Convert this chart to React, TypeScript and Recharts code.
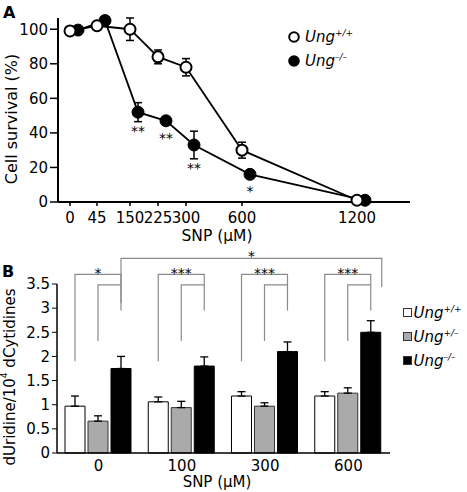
import React from 'react';
import { Bar, BarChart, ErrorBar, LabelList, Legend, Line, LineChart, XAxis, YAxis } from 'recharts';

const FONT = '"DejaVu Sans", sans-serif';

// panel A: cell survival vs SNP dose
const doses = [0, 45, 150, 225, 300, 600, 1200];
// the dose axis in the original is not to scale, this is where each dose sits on it
const dosePos = [12, 39, 72, 100, 128, 184, 299];
const survivalWT = [99, 102, 100, 84, 78, 30, 1];
const survivalWTErr = [0, 0, 6.5, 4, 5, 4.6, 0];
const survivalKO = [99.5, 105, 52, 47, 33, 16, 1];
const survivalKOErr = [0, 0, 5.5, 1.5, 8, 2, 0];
const survivalKOSig = ['', '', '**', '**', '**', '*', ''];

// panel B: dUridine per 10^4 dCytidines
const snpDoses = ['0', '100', '300', '600'];
const uridineWT = [0.97, 1.06, 1.18, 1.18];
const uridineWTErr = [0.21, 0.1, 0.09, 0.09];
const uridineHet = [0.66, 0.94, 0.97, 1.24];
const uridineHetErr = [0.11, 0.13, 0.07, 0.11];
const uridineKO = [1.75, 1.8, 2.1, 2.5];
const uridineKOErr = [0.25, 0.19, 0.2, 0.24];
const groupSig = ['*', '***', '***', '***'];
const overallSig = '*';

const KO_SHIFT = 8; // filled points are dodged right a bit

const lineWT = doses.map((d, i) => ({ dose: d, pos: dosePos[i], value: survivalWT[i], err: survivalWTErr[i] }));
const lineKO = doses.map((d, i) => ({
  dose: d,
  pos: dosePos[i] + KO_SHIFT,
  value: survivalKO[i],
  err: survivalKOErr[i],
  sig: survivalKOSig[i],
}));

const barData = snpDoses.map((d, i) => ({
  dose: d,
  wt: uridineWT[i],
  wtErr: [0, uridineWTErr[i]],
  het: uridineHet[i],
  hetErr: [0, uridineHetErr[i]],
  ko: uridineKO[i],
  koErr: [0, uridineKOErr[i]],
}));

// layout
const A_W = 467, A_H = 250;
const A_MARGIN = { top: 18, right: 57, bottom: 18, left: 8 };
const A_XAXIS_H = 30;
const A_YMAX = 106.5;
const A_PLOT_H = A_H - A_MARGIN.top - A_MARGIN.bottom - A_XAXIS_H;

const B_TOP = 240;
const B_W = 467, B_H = 252;
const B_MARGIN = { top: 44, right: 77, bottom: 14, left: 7 };
const B_YAXIS_W = 50;
const B_PLOT_W = B_W - B_MARGIN.left - B_MARGIN.right - B_YAXIS_W;
const B_BAR_GAP = 3;

const GRAY = '#aaaaaa';
const BRACKET = '#8a8a8a';

function AxisTitle(props: any) {
  const { tx, ty, rot, size, main, sup, rest } = props;
  return (
    <text
      x={tx}
      y={ty}
      transform={rot ? `rotate(${rot} ${tx} ${ty})` : undefined}
      textAnchor="middle"
      dominantBaseline="central"
      fontSize={size}
      fontFamily={FONT}
      fill="#000"
    >
      {main}
      {sup ? <tspan fontSize={size * 0.6} dy={-size * 0.4}>{sup}</tspan> : null}
      {rest ? <tspan dy={size * 0.4}>{rest}</tspan> : null}
    </text>
  );
}

const renderSurvivalStar = (props: any) => {
  const vb = props.viewBox || {};
  const x = vb.x ?? props.x;
  const y = vb.y ?? props.y;
  const { value, index } = props;
  if (!value) return null;
  const k = A_PLOT_H / A_YMAX;
  const errBottom = y + survivalKOErr[index] * k;
  const cy = Math.max(y + 14, errBottom + 6);
  return (
    <text x={x} y={cy + 8} textAnchor="middle" fontSize={14} fontFamily={FONT} fill="#000">
      {value}
    </text>
  );
};

const renderBrackets = (props: any) => {
  const vb = props.viewBox || props;
  const { x, y, width, height } = vb;
  const index = props.index;
  const value = uridineKO[index];
  const k = height / value;
  const base = y + height;
  const Y = (v: number) => base - v * k;
  const step = width + B_BAR_GAP;
  const cb = x + width / 2;
  const cg = cb - step;
  const cw = cb - 2 * step;
  const band = B_PLOT_W / snpDoses.length;
  const last = index === snpDoses.length - 1;
  const left = cb - (snpDoses.length - 1) * band;
  const right = x + width + 1;
  return (
    <g fill="none" strokeWidth={1.2}>
      <path d={`M${cw},${Y(1.9)}V${Y(3.7)}H${cb}V${Y(2.95)}`} stroke={BRACKET} />
      <path d={`M${cg},${Y(2.32)}V${Y(3.48)}H${cb}`} stroke={BRACKET} />
      <text x={(cw + cb) / 2} y={Y(3.7) + 3.5} textAnchor="middle" fontSize={14} fontFamily={FONT} fill="#000">
        {groupSig[index]}
      </text>
      {last ? (
        <>
          <path d={`M${left},${Y(3.1)}V${Y(4.03)}H${right}V${Y(3.44)}`} stroke={BRACKET} />
          <text x={(left + right) / 2} y={Y(4.03) + 3} textAnchor="middle" fontSize={14} fontFamily={FONT} fill="#000">
            {overallSig}
          </text>
        </>
      ) : null}
    </g>
  );
};

const survivalLegend = [
  { label: 'Ung', sup: '+/+', fill: '#fff' },
  { label: 'Ung', sup: '–/–', fill: '#000' },
];

const uridineLegend = [
  { label: 'Ung', sup: '+/+', fill: '#fff' },
  { label: 'Ung', sup: '+/–', fill: GRAY },
  { label: 'Ung', sup: '–/–', fill: '#000' },
];

function SurvivalLegend() {
  return (
    <div style={{ fontFamily: FONT, fontSize: 15, fontStyle: 'italic', color: '#000' }}>
      {survivalLegend.map((it) => (
        <div key={it.sup} style={{ display: 'flex', alignItems: 'center', height: 24 }}>
          <svg width={12} height={12}>
            <circle cx={6} cy={6} r={4.8} fill={it.fill} stroke="#000" strokeWidth={2} />
          </svg>
          <span style={{ marginLeft: 5, whiteSpace: 'nowrap' }}>
            {it.label}
            <sup style={{ fontSize: 9 }}>{it.sup}</sup>
          </span>
        </div>
      ))}
    </div>
  );
}

function UridineLegend() {
  return (
    <div style={{ fontFamily: FONT, fontSize: 15, fontStyle: 'italic', color: '#000' }}>
      {uridineLegend.map((it) => (
        <div key={it.sup} style={{ display: 'flex', alignItems: 'center', height: 24 }}>
          <svg width={9} height={9}>
            <rect x={0.5} y={0.5} width={8} height={8} fill={it.fill} stroke="#333" strokeWidth={1} />
          </svg>
          <span style={{ marginLeft: 2, whiteSpace: 'nowrap' }}>
            {it.label}
            <sup style={{ fontSize: 9 }}>{it.sup}</sup>
          </span>
        </div>
      ))}
    </div>
  );
}

const tickStyle = { fontSize: 15, fill: '#000', fontFamily: FONT };

export default function App() {
  return (
    <div style={{ position: 'absolute', left: 0, top: 0, width: 467, height: 492, background: '#fff', fontFamily: FONT }}>
      <div style={{ position: 'absolute', left: 0, top: 0 }}>
        <LineChart width={A_W} height={A_H} margin={A_MARGIN}>
          <XAxis
            type="number"
            dataKey="pos"
            domain={[0, 352]}
            ticks={dosePos}
            tickFormatter={(v: number) => String(doses[dosePos.indexOf(v)])}
            height={A_XAXIS_H}
            axisLine={{ stroke: '#000', strokeWidth: 2 }}
            tickLine={{ stroke: '#000', strokeWidth: 1.5 }}
            tickSize={4}
            tickMargin={6}
            tick={tickStyle}
            interval={0}
            label={<AxisTitle tx={217} ty={236} size={15.5} main="SNP (µM)" />}
          />
          <YAxis
            type="number"
            domain={[0, A_YMAX]}
            ticks={[0, 20, 40, 60, 80, 100]}
            width={50}
            axisLine={{ stroke: '#000', strokeWidth: 2 }}
            tickLine={{ stroke: '#000', strokeWidth: 1.5 }}
            tickSize={8}
            tickMargin={2}
            tick={tickStyle}
            label={<AxisTitle tx={11} ty={119} rot={-90} size={16} main="Cell survival (%)" />}
          />
          <Legend
            layout="vertical"
            align="center"
            verticalAlign="middle"
            wrapperStyle={{ left: 288, top: 24.7 }}
            content={() => <SurvivalLegend />}
          />
          <Line
            data={lineKO}
            dataKey="value"
            stroke="#000"
            strokeWidth={1.8}
            dot={{ r: 6, fill: '#000', stroke: '#000', strokeWidth: 1 }}
            activeDot={false}
            isAnimationActive={false}
          >
            <ErrorBar dataKey="err" width={4} stroke="#000" strokeWidth={1.5} direction="y" />
            <LabelList dataKey="sig" content={renderSurvivalStar} />
          </Line>
          <Line
            data={lineWT}
            dataKey="value"
            stroke="#000"
            strokeWidth={1.8}
            dot={{ r: 5.5, fill: '#fff', stroke: '#000', strokeWidth: 2 }}
            activeDot={false}
            isAnimationActive={false}
          >
            <ErrorBar dataKey="err" width={4} stroke="#000" strokeWidth={1.5} direction="y" />
          </Line>
        </LineChart>
      </div>
      <div style={{ position: 'absolute', left: 0, top: B_TOP }}>
        <BarChart
          width={B_W}
          height={B_H}
          data={barData}
          margin={B_MARGIN}
          barCategoryGap={8}
          barGap={B_BAR_GAP}
        >
          <XAxis
            dataKey="dose"
            height={25}
            axisLine={{ stroke: '#000', strokeWidth: 1.5 }}
            tickLine={false}
            tickSize={0}
            tickMargin={7}
            tick={tickStyle}
            label={<AxisTitle tx={217} ty={242} size={15} main="SNP (µM)" />}
          />
          <YAxis
            type="number"
            domain={[0, 3.5]}
            ticks={[0, 0.5, 1, 1.5, 2, 2.5, 3, 3.5]}
            width={B_YAXIS_W}
            axisLine={{ stroke: '#000', strokeWidth: 1.5 }}
            tickLine={{ stroke: '#000', strokeWidth: 1 }}
            tickSize={5}
            tickMargin={2}
            tick={tickStyle}
            label={<AxisTitle tx={10} ty={137} rot={-90} size={15} main="dUridine/10" sup="4" rest=" dCytidines" />}
          />
          <Legend
            layout="vertical"
            align="center"
            verticalAlign="middle"
            wrapperStyle={{ left: 402.5, top: 60.5 }}
            content={() => <UridineLegend />}
          />
          <Bar dataKey="wt" fill="#fff" stroke="#000" strokeWidth={1} isAnimationActive={false}>
            <ErrorBar dataKey="wtErr" width={4} stroke="#000" strokeWidth={1.3} />
          </Bar>
          <Bar dataKey="het" fill={GRAY} stroke="#333" strokeWidth={1} isAnimationActive={false}>
            <ErrorBar dataKey="hetErr" width={4} stroke="#000" strokeWidth={1.3} />
          </Bar>
          <Bar dataKey="ko" fill="#000" stroke="#000" strokeWidth={1} isAnimationActive={false}>
            <ErrorBar dataKey="koErr" width={4} stroke="#000" strokeWidth={1.3} />
            <LabelList dataKey="ko" content={renderBrackets} />
          </Bar>
        </BarChart>
      </div>
      <div style={{ position: 'absolute', left: 3, top: 4.5, fontWeight: 'bold', fontSize: 16, lineHeight: '16px' }}>A</div>
      <div style={{ position: 'absolute', left: 2, top: 263.5, fontWeight: 'bold', fontSize: 16, lineHeight: '16px' }}>B</div>
    </div>
  );
}
